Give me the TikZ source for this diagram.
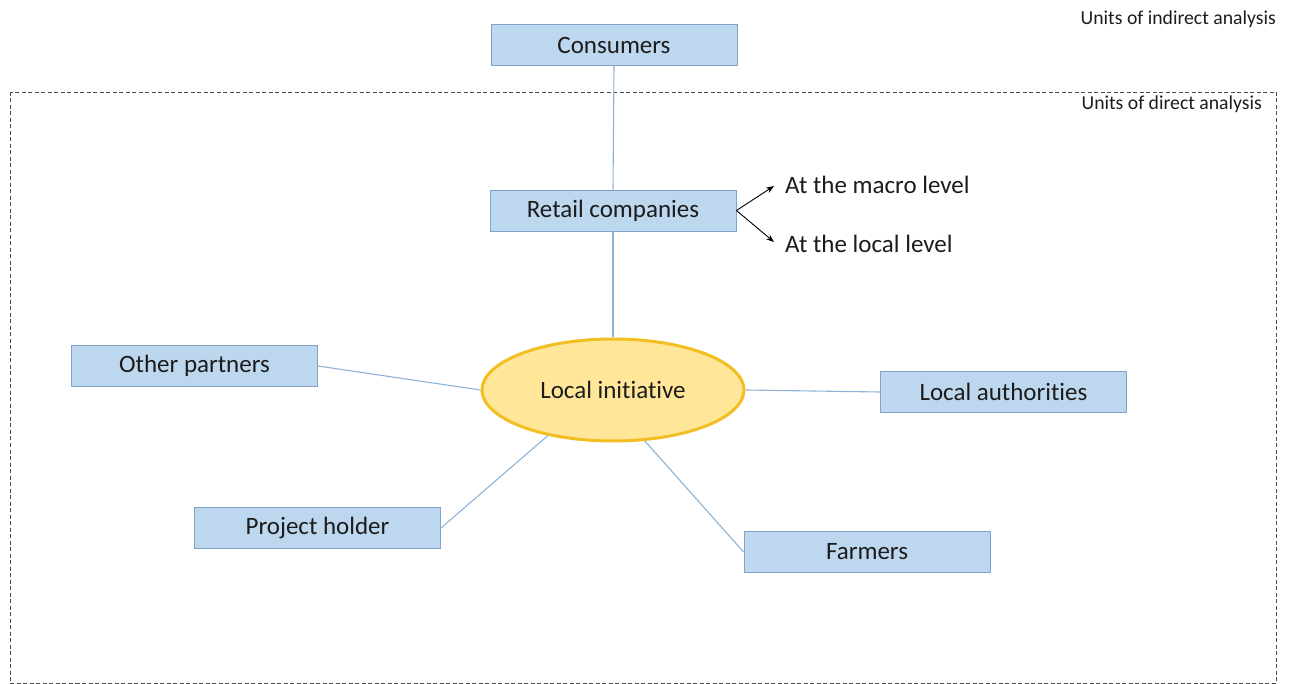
\documentclass[tikz,border=0pt]{standalone}
\usepackage{fontspec}
\setmainfont{Carlito}[Ligatures={NoCommon}]
\usetikzlibrary{arrows.meta,shapes.geometric}
\definecolor{boxfill}{HTML}{BDD7EE}
\definecolor{boxline}{HTML}{7FA3C8}
\definecolor{conn}{HTML}{8DB3D6}
\definecolor{ellfill}{HTML}{FFE699}
\definecolor{ellline}{HTML}{F2BE22}
\definecolor{txt}{HTML}{1C1C1C}
\begin{document}
\begin{tikzpicture}[x=1pt,y=-1pt,
  unitbox/.style={draw=boxline,line width=0.9pt,fill=boxfill,minimum width=246pt,minimum height=41pt,inner sep=0pt,font=\fontsize{25}{28}\selectfont,text=txt},
  centre/.style={ellipse,draw=ellline,line width=3pt,fill=ellfill,minimum width=262pt,minimum height=102pt,inner sep=0pt,font=\fontsize{25}{28}\selectfont,text=txt},
  link/.style={draw=conn,line width=1.1pt},
  levelarrow/.style={draw=black,line width=0.9pt,-{Stealth[length=8pt,width=6pt]}},
  leveltext/.style={anchor=west,inner sep=0pt,font=\fontsize{25}{28}\selectfont,text=txt},
  unitlabel/.style={anchor=east,inner sep=0pt,font=\fontsize{19.7}{22}\selectfont,text=txt},
  frame/.style={draw=black!70,line width=0.9pt,dash pattern=on 4pt off 2.5pt}]
\useasboundingbox (0,0) rectangle (1293,684);
\draw[frame] (10,92) rectangle (1276,683);
\node[unitlabel] (ui) at (1276,19) {Units of indirect analysis};
\node[unitlabel] (ud) at (1262,104) {Units of direct analysis};
\node[unitbox] (co) at (614,45) {Consumers};
\node[unitbox] (rc) at (613,210.5) {Retail companies};
\node[centre] (li) at (613,390) {Local initiative};
\node[unitbox] (op) at (194.5,366) {Other partners};
\node[unitbox] (la) at (1003.5,392) {Local authorities};
\node[unitbox] (ph) at (317.5,528) {Project holder};
\node[unitbox] (fa) at (867,552) {Farmers};
\node[leveltext] (ma) at (785,185) {At the macro level};
\node[leveltext] (lo) at (785,244) {At the local level};
\coordinate (maend) at (774,186);
\coordinate (loend) at (774,242);
\draw[link] (co.south) -- (rc.north);
\draw[link] (rc.south) -- (li.north);
\draw[link] (op.east) -- (li.west);
\draw[link] (li.east) -- (la.west);
\draw[link] (ph.east) -- (li.215);
\draw[link] (fa.west) -- (li.302);
\draw[levelarrow] (rc.east) -- (maend);
\draw[levelarrow] (rc.east) -- (loend);
\end{tikzpicture}
\end{document}
